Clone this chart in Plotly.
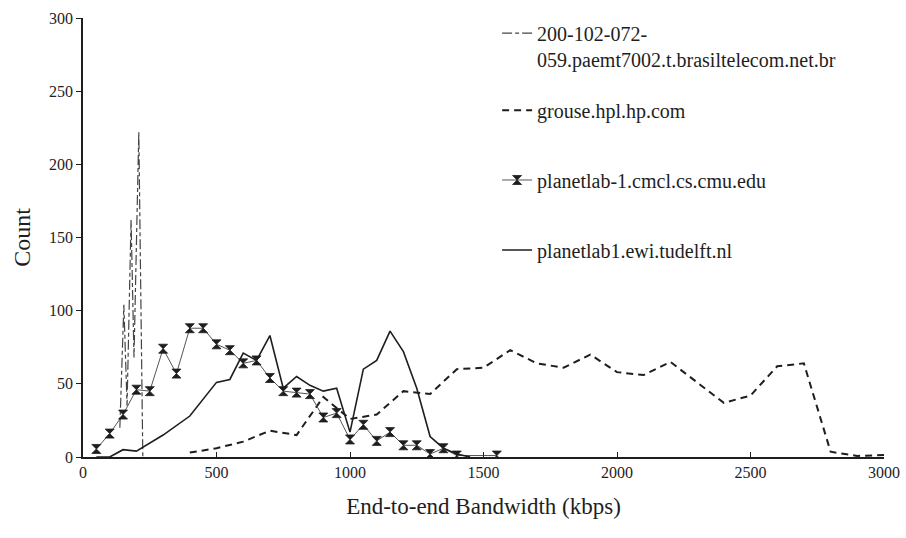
import plotly.graph_objects as go

# ---- data ----
brasil_x = [138, 153, 165, 180, 191, 209, 224]
brasil_y = [20, 104, 35, 162, 68, 222, 0]

grouse_x = [400, 500, 600, 700, 800, 900, 1000, 1100, 1200, 1300, 1400, 1500, 1600, 1700,
            1800, 1900, 2000, 2100, 2200, 2300, 2400, 2500, 2600, 2700, 2800, 2900, 3000]
grouse_y = [3, 6, 10.5, 18, 15, 41, 26, 29, 45, 43, 60, 61, 73, 64,
            61, 70, 58, 56, 65, 51, 37, 42, 62, 64, 3.6, 0.7, 1.4]

cmu_x = [50, 100, 150, 200, 250, 300, 350, 400, 450, 500, 550, 600, 650, 700, 750, 800,
         850, 900, 950, 1000, 1050, 1100, 1150, 1200, 1250, 1300, 1350, 1400, 1550]
cmu_y = [5.5, 16, 29, 46, 45, 74, 57, 88, 88, 77, 73, 64, 66, 54, 45, 44,
         43, 27, 30, 12, 22, 11, 17, 8, 8, 2, 6, 1, 1]

tud_x = [50, 100, 150, 200, 300, 400, 500, 550, 600, 650, 700, 750, 800, 850, 900, 950,
         1000, 1050, 1100, 1150, 1200, 1250, 1300, 1350, 1400, 1450]
tud_y = [0, 0, 5, 4, 15, 28, 51, 53, 71, 66, 83, 47, 55, 49, 45, 47,
         17, 60, 66, 86, 72, 47, 14, 6, 2, 0]

names = ["200-102-072-<br>059.paemt7002.t.brasiltelecom.net.br",
         "grouse.hpl.hp.com",
         "planetlab-1.cmcl.cs.cmu.edu",
         "planetlab1.ewi.tudelft.nl"]

x_ticks = [0, 500, 1000, 1500, 2000, 2500, 3000]
y_ticks = [0, 50, 100, 150, 200, 250, 300]

FONT = "Liberation Serif"
INK = "#1e1e1e"

fig = go.Figure()
fig.add_trace(go.Scatter(x=brasil_x, y=brasil_y, mode="lines", name=names[0],
                         line=dict(color="#444", width=1.2, dash="10px,3px,4px,3px"),
                         legend="legend"))
fig.add_trace(go.Scatter(x=grouse_x, y=grouse_y, mode="lines", name=names[1],
                         line=dict(color=INK, width=2, dash="7px,5px"),
                         legend="legend2"))
fig.add_trace(go.Scatter(x=cmu_x, y=cmu_y, mode="lines+markers", name=names[2],
                         line=dict(color="#555", width=1),
                         marker=dict(symbol="hourglass", size=9, color=INK,
                                     line=dict(color=INK, width=0.8)),
                         legend="legend3"))
fig.add_trace(go.Scatter(x=tud_x, y=tud_y, mode="lines", name=names[3],
                         line=dict(color=INK, width=1.6),
                         legend="legend4"))

leg_common = dict(font=dict(family=FONT, size=20, color=INK), bgcolor="rgba(0,0,0,0)",
                  x=0.517, xanchor="left", itemwidth=30)

fig.update_layout(
    width=906, height=538,
    margin=dict(l=83, r=22, t=18, b=81),
    paper_bgcolor="white", plot_bgcolor="white",
    font=dict(family=FONT, color=INK),
    showlegend=True,
    legend=dict(**leg_common, y=1.01, yanchor="top", valign="top"),
    legend2=dict(**leg_common, y=0.790, yanchor="middle"),
    legend3=dict(**leg_common, y=0.631, yanchor="middle"),
    legend4=dict(**leg_common, y=0.4715, yanchor="middle"),
    xaxis=dict(range=[0, 3000], tickvals=x_ticks, ticktext=[str(v) for v in x_ticks],
               showgrid=False, zeroline=False, showline=True, linecolor=INK, linewidth=1.5,
               ticks="inside", ticklen=5, tickcolor=INK,
               tickfont=dict(family=FONT, size=16, color=INK),
               title=dict(text="End-to-end Bandwidth (kbps)",
                          font=dict(family=FONT, size=23, color=INK), standoff=18),
               automargin=False),
    yaxis=dict(range=[0, 300], tickvals=y_ticks, ticktext=[str(v) for v in y_ticks],
               showgrid=False, zeroline=False, showline=True, linecolor=INK, linewidth=1.5,
               ticks="outside", ticklen=5, tickcolor=INK,
               tickfont=dict(family=FONT, size=16, color=INK),
               title=dict(text="Count", font=dict(family=FONT, size=24, color=INK), standoff=12),
               automargin=False),
)

fig.write_html("out.html")
